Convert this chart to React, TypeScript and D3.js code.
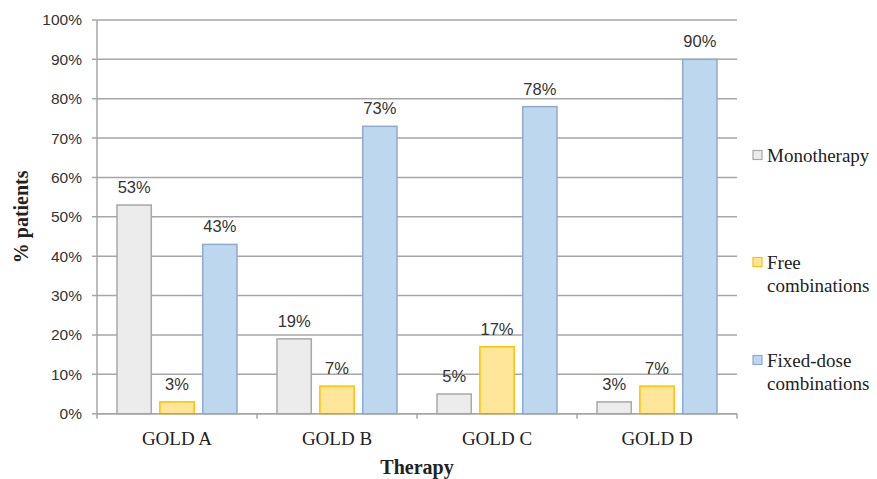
import React from "react";
import * as d3 from "d3";

const categories = ["GOLD A", "GOLD B", "GOLD C", "GOLD D"];
const seriesNames = ["Monotherapy", "Free combinations", "Fixed-dose combinations"];
const monotherapy = [53, 19, 5, 3];
const freeCombinations = [3, 7, 17, 7];
const fixedDose = [43, 73, 78, 90];
const yTicks = [0, 10, 20, 30, 40, 50, 60, 70, 80, 90, 100];

const seriesValues = [monotherapy, freeCombinations, fixedDose];
const fills = ["#ececec", "#ffe699", "#bdd7ee"];
const strokes = ["#a8a8a8", "#ffc000", "#8eaacf"];
const legendLines = [["Monotherapy"], ["Free", "combinations"], ["Fixed-dose", "combinations"]];

const W = 877;
const H = 479;
const left = 97;
const right = 737;
const top = 20;
const bottom = 413.7;

export default function App() {
  const x0 = d3.scaleBand<string>().domain(categories).range([left, right]).padding(0);
  const x1 = d3
    .scaleBand<string>()
    .domain(seriesNames)
    .range([20, x0.bandwidth() - 20])
    .paddingInner(0.2);
  const y = d3.scaleLinear().domain([0, 100]).range([bottom, top]);
  const grid = "#a6a6a6";
  const serif = "'Liberation Serif', 'Times New Roman', serif";
  const sans = "'Liberation Sans', Arial, sans-serif";

  const legendY = [155, 262, 360];

  return (
    <svg width={W} height={H} style={{ position: "absolute", left: 0, top: 0, background: "#fff" }}>
      {/* horizontal gridlines and y ticks */}
      {yTicks.map((t) => (
        <g key={t}>
          <line x1={left - 5} x2={right} y1={y(t)} y2={y(t)} stroke={grid} strokeWidth={1.5} />
          <text
            x={82}
            y={y(t)}
            dy="0.35em"
            textAnchor="end"
            fontFamily={sans}
            fontSize={15.5}
            fill="#333"
          >
            {t}%
          </text>
        </g>
      ))}
      {/* y axis line */}
      <line x1={left} x2={left} y1={top} y2={bottom} stroke={grid} strokeWidth={1.5} />
      {/* x axis ticks */}
      {[...categories.map((c) => x0(c) as number), right].map((xv, i) => (
        <line key={i} x1={xv} x2={xv} y1={bottom} y2={bottom + 5} stroke={grid} strokeWidth={1.5} />
      ))}

      {/* bars */}
      {categories.map((c, ci) => (
        <g key={c} transform={`translate(${x0(c)},0)`}>
          {seriesNames.map((s, si) => {
            const v = seriesValues[si][ci];
            const bx = x1(s) as number;
            return (
              <g key={s}>
                <rect
                  x={bx}
                  y={y(v)}
                  width={x1.bandwidth()}
                  height={bottom - y(v)}
                  fill={fills[si]}
                  stroke={strokes[si]}
                  strokeWidth={1.5}
                />
                <text
                  x={bx + x1.bandwidth() / 2}
                  y={y(v) - 12}
                  textAnchor="middle"
                  fontFamily={sans}
                  fontSize={16.5}
                  fill="#333"
                >
                  {v}%
                </text>
              </g>
            );
          })}
          <text
            x={x0.bandwidth() / 2}
            y={445}
            textAnchor="middle"
            fontFamily={serif}
            fontSize={19}
            fill="#222"
          >
            {c}
          </text>
        </g>
      ))}

      {/* x axis line drawn over bar bottoms */}
      <line x1={left} x2={right} y1={bottom} y2={bottom} stroke={grid} strokeWidth={1.5} />

      {/* axis titles */}
      <text x={417} y={474} textAnchor="middle" fontFamily={serif} fontWeight="bold" fontSize={20} fill="#222">
        Therapy
      </text>
      <text
        transform={`translate(28,${(top + bottom) / 2}) rotate(-90)`}
        textAnchor="middle"
        fontFamily={serif}
        fontWeight="bold"
        fontSize={20}
        fill="#222"
      >
        % patients
      </text>

      {/* legend */}
      {legendLines.map((lines, i) => (
        <g key={i}>
          <rect
            x={753}
            y={legendY[i] - 4.5}
            width={9}
            height={9}
            fill={fills[i]}
            stroke={strokes[i]}
            strokeWidth={1.2}
          />
          {lines.map((ln, li) => (
            <text
              key={li}
              x={767}
              y={legendY[i] + li * 23}
              dy="0.35em"
              fontFamily={serif}
              fontSize={19}
              fill="#222"
            >
              {ln}
            </text>
          ))}
        </g>
      ))}
    </svg>
  );
}
